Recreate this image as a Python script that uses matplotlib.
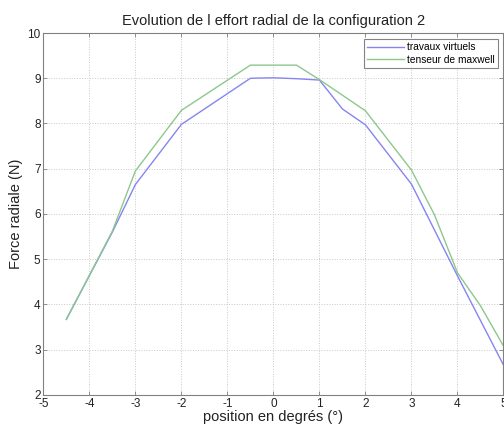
import matplotlib
matplotlib.use("Agg")
import matplotlib.pyplot as plt

plt.rcParams['font.family'] = ['Liberation Sans', 'DejaVu Sans']

# travaux virtuels (blue)
x_tv = [-4.5, -3.5, -3, -2, -0.5, 0, 0.5, 1, 1.5, 2, 3, 4, 5]
y_tv = [3.67, 5.6, 6.65, 7.98, 9.0, 9.01, 8.99, 8.96, 8.32, 7.97, 6.66, 4.63, 2.66]

# tenseur de maxwell (green)
x_tm = [-4.5, -3.5, -3, -2, -0.5, 0.5, 1, 2, 3, 3.5, 4, 4.5, 5]
y_tm = [3.67, 5.62, 6.95, 8.29, 9.29, 9.29, 8.97, 8.28, 6.97, 5.98, 4.70, 3.97, 3.08]

labels = ['travaux virtuels', 'tenseur de maxwell']
title = "Evolution de l effort radial de la configuration 2"
xlabel = "position en degrés (°)"
ylabel = "Force radiale (N)"
xticks = [-5, -4, -3, -2, -1, 0, 1, 2, 3, 4, 5]
yticks = [2, 3, 4, 5, 6, 7, 8, 9, 10]

fig = plt.figure(figsize=(5.04, 4.26), dpi=100)
ax = fig.add_axes([0.086, 0.073, 0.913, 0.8495])

ax.plot(x_tv, y_tv, color='#8585f0', lw=1.0, label=labels[0])
ax.plot(x_tm, y_tm, color='#8cc88c', lw=1.0, label=labels[1])

ax.set_xlim(-5, 5)
ax.set_ylim(2, 10)
ax.set_xticks(xticks)
ax.set_yticks(yticks)
ax.set_xticklabels([str(t) for t in xticks])
ax.set_yticklabels([str(t) for t in yticks])
ax.tick_params(direction='in', length=3, width=0.6, color='#808080',
               labelsize=8.5, pad=2, top=True, right=True, labelcolor='#222222')
for s in ax.spines.values():
    s.set_color('#808080')
    s.set_linewidth(0.8)
ax.grid(True, linestyle=':', color='#c8c8c8', linewidth=0.7)

ax.set_title(title, fontsize=10.5, pad=6, color='#222222')
ax.set_xlabel(xlabel, fontsize=10.5, labelpad=0, color='#222222')
ax.set_ylabel(ylabel, fontsize=10.5, labelpad=3, color='#222222')

leg = ax.legend(loc='upper right', fontsize=7.3, frameon=True, fancybox=False,
                handlelength=3.6, borderpad=0.35, labelspacing=0.25,
                handletextpad=0.3, borderaxespad=0.55)
leg.get_frame().set_edgecolor('#666666')
leg.get_frame().set_linewidth(0.8)

fig.savefig('out.png', dpi=100)
